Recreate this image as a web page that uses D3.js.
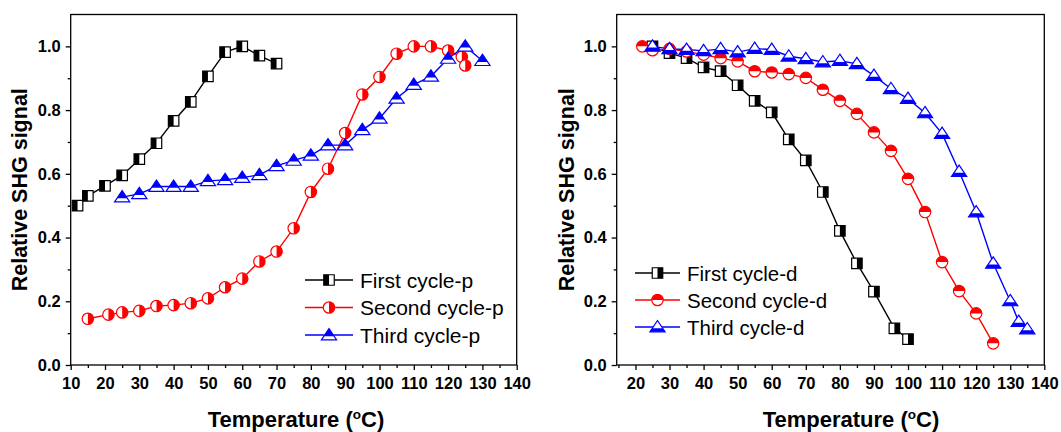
<!DOCTYPE html>
<html>
<head>
<meta charset="utf-8">
<script src="https://cdn.jsdelivr.net/npm/d3@7"></script>
<style>
  body { margin: 0; background: #fff; }
  svg { display: block; }
</style>
</head>
<body>
<svg id="chart" width="1061" height="432"></svg>
<script>
// ---- Heating cycles (left panel) ----
const firstTempP  = [12, 15, 20, 25, 30, 35, 40, 45, 50, 55, 60, 65, 70];
const firstP      = [0.500, 0.531, 0.562, 0.595, 0.646, 0.696, 0.766, 0.826, 0.906, 0.982, 1.000, 0.971, 0.946];

const secondTempP = [15, 21, 25, 30, 35, 40, 45, 50, 55, 60, 65, 70, 75, 80, 85, 90, 95, 100, 105, 110, 115, 120, 124, 125];
const secondP     = [0.145, 0.158, 0.165, 0.170, 0.185, 0.188, 0.194, 0.209, 0.244, 0.271, 0.325, 0.356, 0.429, 0.543,
                     0.616, 0.728, 0.849, 0.904, 0.977, 1.000, 1.000, 0.987, 0.967, 0.940];

const thirdTempP  = [25, 30, 35, 40, 45, 50, 55, 60, 65, 70, 75, 80, 85, 90, 95, 100, 105, 110, 115, 120, 125, 130];
const thirdP      = [0.527, 0.537, 0.560, 0.560, 0.560, 0.578, 0.581, 0.588, 0.597, 0.625, 0.642, 0.658, 0.690, 0.690,
                     0.738, 0.774, 0.837, 0.880, 0.906, 0.962, 1.000, 0.955];

// ---- Cooling cycles (right panel) ----
const firstTempD  = [25, 30, 35, 40, 45, 50, 55, 60, 65, 70, 75, 80, 85, 90, 96, 100];
const firstD      = [1.000, 0.979, 0.963, 0.934, 0.922, 0.878, 0.829, 0.793, 0.708, 0.642, 0.543, 0.421, 0.319, 0.230, 0.115, 0.081];

const secondTempD = [22, 25, 30, 35, 40, 45, 50, 55, 60, 65, 70, 75, 80, 85, 90, 95, 100, 105, 110, 115, 120, 125];
const secondD     = [1.000, 0.988, 0.992, 0.984, 0.974, 0.963, 0.953, 0.922, 0.918, 0.913, 0.901, 0.864, 0.829, 0.788,
                     0.730, 0.672, 0.584, 0.480, 0.323, 0.232, 0.162, 0.068];

const thirdTempD  = [25, 30, 35, 40, 45, 50, 55, 60, 65, 70, 75, 80, 85, 90, 95, 100, 105, 110, 115, 120, 125, 130, 132.5, 135];
const thirdD      = [1.000, 0.992, 0.990, 0.986, 0.992, 0.982, 0.993, 0.990, 0.969, 0.961, 0.951, 0.955, 0.945, 0.908,
                     0.867, 0.836, 0.791, 0.726, 0.607, 0.480, 0.319, 0.201, 0.136, 0.113];

// ---- Tick labels ----
const xTicksLeft  = [10, 20, 30, 40, 50, 60, 70, 80, 90, 100, 110, 120, 130, 140];
const xTicksRight = [20, 30, 40, 50, 60, 70, 80, 90, 100, 110, 120, 130, 140];
const yTicks      = [0.0, 0.2, 0.4, 0.6, 0.8, 1.0];

const FONT = 'Arial, "Liberation Sans", Helvetica, sans-serif';
const svg = d3.select('#chart');

// Marker outline and half-filled region for each symbol style
function markerShapes(shape, half) {
  if (shape === 'square') {
    const s = 10.5, h = s / 2;
    const full = `M${-h},${-h}H${h}V${h}H${-h}Z`;
    const part = half === 'left' ? `M${-h},${-h}H0V${h}H${-h}Z` : `M0,${-h}H${h}V${h}H0Z`;
    return { full, part };
  }
  if (shape === 'circle') {
    const r = 5.7;
    const full = `M${-r},0A${r},${r} 0 1 1 ${r},0A${r},${r} 0 1 1 ${-r},0Z`;
    const part = half === 'right'
      ? `M0,${-r}A${r},${r} 0 0 1 0,${r}Z`
      : `M${-r},0A${r},${r} 0 0 1 ${r},0Z`;
    return { full, part };
  }
  // triangle (apex up), split line near the base
  const top = -6.5, base = 4.8, hw = 7.6;
  const split = base - 0.32 * (base - top);
  const sw = hw * (split - top) / (base - top);
  const full = `M0,${top}L${hw},${base}L${-hw},${base}Z`;
  const part = half === 'top'
    ? `M0,${top}L${sw},${split}L${-sw},${split}Z`
    : `M${-sw},${split}L${sw},${split}L${hw},${base}L${-hw},${base}Z`;
  return { full, part };
}

function drawMarker(g, x, y, shape, half, color) {
  const m = markerShapes(shape, half);
  const mk = g.append('g').attr('transform', `translate(${x},${y})`);
  mk.append('path').attr('d', m.full).attr('fill', '#fff');
  mk.append('path').attr('d', m.part).attr('fill', color);
  mk.append('path').attr('d', m.full).attr('fill', 'none').attr('stroke', color).attr('stroke-width', 1.2);
}

function drawPanel(cfg) {
  const x = d3.scaleLinear().domain(cfg.xDomain).range([cfg.left, cfg.right]);
  const y = d3.scaleLinear().domain([0, 1.1]).range([cfg.bottom, cfg.top]);
  const g = svg.append('g');

  // minor ticks
  const xMinor = d3.range(cfg.xMinorStart, cfg.xDomain[1] + 0.01, 5).filter(v => v % 10 !== 0);
  g.append('g').attr('transform', `translate(0,${cfg.bottom})`)
    .call(d3.axisBottom(x).tickValues(xMinor).tickSize(3).tickSizeOuter(0).tickFormat(''))
    .call(a => a.select('.domain').remove());
  g.append('g').attr('transform', `translate(${cfg.left},0)`)
    .call(d3.axisLeft(y).tickValues([0.1, 0.3, 0.5, 0.7, 0.9]).tickSize(3).tickSizeOuter(0).tickFormat(''))
    .call(a => a.select('.domain').remove());

  // major ticks with labels
  const xa = g.append('g').attr('transform', `translate(0,${cfg.bottom})`)
    .call(d3.axisBottom(x).tickValues(cfg.xTicks).tickSize(5).tickSizeOuter(0).tickPadding(7).tickFormat(d3.format('d')));
  const ya = g.append('g').attr('transform', `translate(${cfg.left},0)`)
    .call(d3.axisLeft(y).tickValues(yTicks).tickSize(5).tickSizeOuter(0).tickPadding(cfg.yPad).tickFormat(d3.format('.1f')));
  [xa, ya].forEach(a => {
    a.select('.domain').remove();
    a.selectAll('text').attr('font-family', FONT).attr('font-size', 16.5).attr('font-weight', 'bold').attr('fill', '#000');
  });
  g.selectAll('.tick line').attr('stroke', '#000').attr('stroke-width', 1.3);

  // frame
  g.append('rect')
    .attr('x', cfg.left).attr('y', cfg.top)
    .attr('width', cfg.right - cfg.left).attr('height', cfg.bottom - cfg.top)
    .attr('fill', 'none').attr('stroke', '#000').attr('stroke-width', 1.3);

  // series
  const line = d3.line().x(d => x(d[0])).y(d => y(d[1]));
  cfg.series.forEach(s => {
    const pts = s.t.map((t, i) => [t, s.v[i]]);
    g.append('path').datum(pts).attr('d', line)
      .attr('fill', 'none').attr('stroke', s.color).attr('stroke-width', 1.4);
  });
  cfg.series.forEach(s => {
    s.t.forEach((t, i) => drawMarker(g, x(t), y(s.v[i]), s.shape, s.half, s.color));
  });

  // legend
  cfg.series.forEach((s, i) => {
    const ly = cfg.legend.y0 + i * cfg.legend.dy;
    g.append('line')
      .attr('x1', cfg.legend.x0).attr('x2', cfg.legend.x1)
      .attr('y1', ly).attr('y2', ly)
      .attr('stroke', s.color).attr('stroke-width', 1.4);
    drawMarker(g, (cfg.legend.x0 + cfg.legend.x1) / 2, ly, s.shape, s.half, s.color);
    g.append('text')
      .attr('x', cfg.legend.tx).attr('y', ly + 7.5)
      .attr('font-family', FONT).attr('font-size', cfg.legend.size).attr('fill', '#000')
      .text(s.name);
  });

  // axis titles
  const xt = g.append('text')
    .attr('x', cfg.xTitleX).attr('y', 427)
    .attr('text-anchor', 'middle')
    .attr('font-family', FONT).attr('font-size', 22).attr('font-weight', 'bold').attr('fill', '#000');
  xt.append('tspan').text('Temperature (');
  xt.append('tspan').attr('font-size', 13.5).attr('dy', -8.5).text('o');
  xt.append('tspan').attr('dy', 8.5).text('C)');

  g.append('text')
    .attr('transform', `translate(${cfg.yTitleX},${(cfg.top + cfg.bottom) / 2}) rotate(-90)`)
    .attr('text-anchor', 'middle')
    .attr('font-family', FONT).attr('font-size', 21.5).attr('font-weight', 'bold').attr('fill', '#000')
    .text('Relative SHG signal');
}

drawPanel({
  left: 70.7, right: 516.7, top: 14.5, bottom: 365,
  xDomain: [10, 140], xTicks: xTicksLeft, xMinorStart: 15, yPad: 5,
  xTitleX: 296, yTitleX: 27,
  legend: { x0: 305, x1: 353, tx: 360, y0: 280, dy: 27.5, size: 21 },
  series: [
    { name: 'First cycle-p',  t: firstTempP,  v: firstP,  color: '#000000', shape: 'square',   half: 'left' },
    { name: 'Second cycle-p', t: secondTempP, v: secondP, color: '#ff0000', shape: 'circle',   half: 'right' },
    { name: 'Third cycle-p',  t: thirdTempP,  v: thirdP,  color: '#0000ff', shape: 'triangle', half: 'top' }
  ]
});

drawPanel({
  left: 616.7, right: 1044.3, top: 14.5, bottom: 365,
  xDomain: [14.5, 140], xTicks: xTicksRight, xMinorStart: 15, yPad: 5,
  xTitleX: 851, yTitleX: 574,
  legend: { x0: 635, x1: 680, tx: 687, y0: 273, dy: 27, size: 20.5 },
  series: [
    { name: 'First cycle-d',  t: firstTempD,  v: firstD,  color: '#000000', shape: 'square',   half: 'right' },
    { name: 'Second cycle-d', t: secondTempD, v: secondD, color: '#ff0000', shape: 'circle',   half: 'top' },
    { name: 'Third cycle-d',  t: thirdTempD,  v: thirdD,  color: '#0000ff', shape: 'triangle', half: 'bottom' }
  ]
});
</script>
</body>
</html>
